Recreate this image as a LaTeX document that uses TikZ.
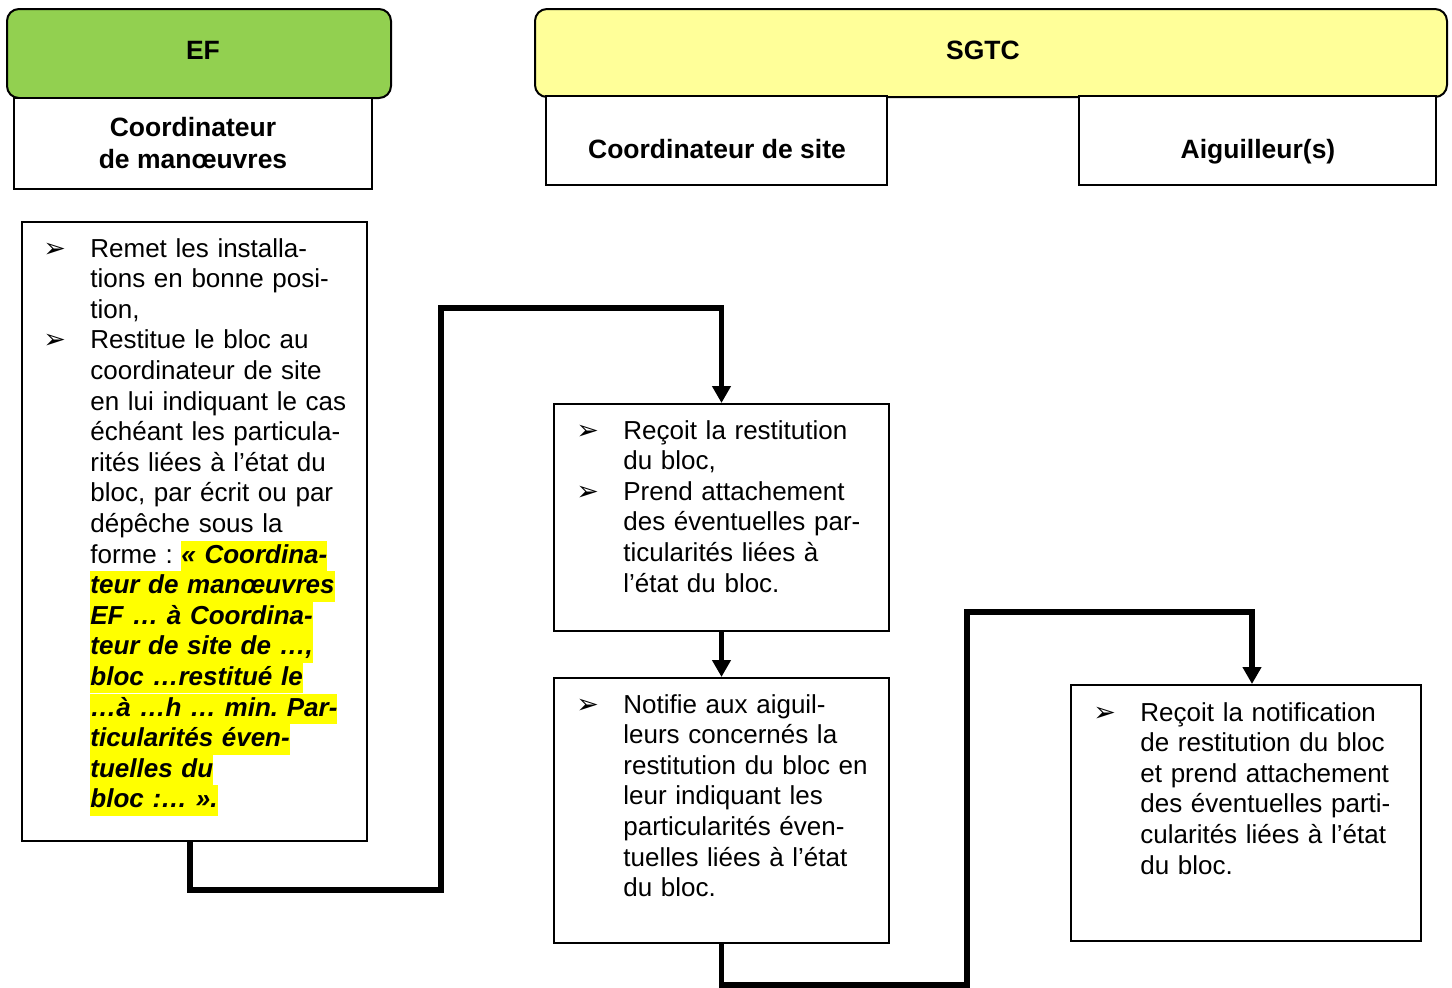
\documentclass[tikz,border=0pt]{standalone}
\usepackage{fontspec}
\setmainfont{Liberation Sans}
\newfontfamily\symfont{DejaVu Sans}
\usetikzlibrary{arrows.meta,fit}

\definecolor{efgreen}{RGB}{146,208,80}
\definecolor{sgtcyellow}{RGB}{255,255,153}
\definecolor{surlignage}{RGB}{255,255,0}

\setlength\parskip{0pt}
\frenchspacing

% highlighted quotation (bold italic on yellow)
\newcommand\surligne[1]{{\setlength\fboxsep{0pt}\colorbox{surlignage}{\rule[-4pt]{0pt}{15.2pt}\bfseries\itshape #1}}}
% arrow-head bullet
\newcommand\puce{\makebox[23.5pt][l]{\strut{\symfont\fontsize{13.5pt}{15pt}\selectfont ➢}}}
% one bulleted item with hanging indent
\newcommand\etape[1]{\par\noindent\hangindent=23.5pt\hangafter=1 \puce#1\par}

\tikzset{
  entete/.style={draw, line width=1pt, rounded corners=6pt, inner sep=0pt},
  boite/.style={draw, line width=1pt, fill=white, inner sep=0pt},
  titre/.style={inner sep=0pt, anchor=base, font=\fontsize{13.25pt}{16pt}\selectfont\bfseries},
  corps/.style={inner sep=0pt, anchor=north west, text width=200pt, align=left,
    font=\fontsize{13pt}{15.3pt}\selectfont},
  conn/.style={line width=2.8pt},
  fleche/.style={conn, -{Triangle[width=9pt,length=8.5pt]}}
}

\begin{document}
\begin{tikzpicture}[x=0.5pt,y=-0.5pt]
\useasboundingbox (0,0) rectangle (1452,987);
\clip (0,0) rectangle (1452,987);

% column headers
\node[entete, fill=efgreen, fit={(7,9) (391,98)}] (ef) {};
\node[titre] (eftxt) at (203,59.5) {EF};
\node[entete, fill=sgtcyellow, fit={(535,9) (1447,97)}] (sgtc) {};
\node[titre] (sgtctxt) at (983,59.5) {SGTC};

% roles
\node[boite, fit={(14,98) (372,189)}] (rolecm) {};
\node[titre, anchor=center, align=center] (rolecmtxt) at (193,143) {Coordinateur\\de manœuvres};
\node[boite, fit={(546,96) (887,185)}] (rolecs) {};
\node[titre] (rolecstxt) at (717,158.5) {Coordinateur de site};
\node[boite, fit={(1079,96) (1436,185)}] (roleaig) {};
\node[titre] (roleaigtxt) at (1258,158.5) {Aiguilleur(s)};

% task boxes
\node[boite, fit={(22,222) (367,841)}] (tachecm) {};
\node[corps] (tachecmtxt) at ([shift={(22,5)}]tachecm.north west) {%
\etape{Remet les installa-\newline tions en bonne posi-\newline tion,}%
\etape{Restitue le bloc au\newline coordinateur de site\newline en lui indiquant le cas\newline échéant les particula-\newline rités liées à l’état du\newline bloc, par écrit ou par\newline dépêche sous la\newline forme : \surligne{« Coordina-}\newline \surligne{teur de manœuvres}\newline \surligne{EF … à Coordina-}\newline \surligne{teur de site de …,}\newline \surligne{bloc …restitué le}\newline \surligne{…à …h … min. Par-}\newline \surligne{ticularités éven-}\newline \surligne{tuelles du}\newline \surligne{bloc :… ».}}};

\node[boite, fit={(554,404) (889,631)}] (tachecs1) {};
\node[corps] (tachecs1txt) at ([shift={(23,5)}]tachecs1.north west) {%
\etape{Reçoit la restitution\newline du bloc,}%
\etape{Prend attachement\newline des éventuelles par-\newline ticularités liées à\newline l’état du bloc.}};

\node[boite, fit={(554,678) (889,943)}] (tachecs2) {};
\node[corps] (tachecs2txt) at ([shift={(23,5)}]tachecs2.north west) {%
\etape{Notifie aux aiguil-\newline leurs concernés la\newline restitution du bloc en\newline leur indiquant les\newline particularités éven-\newline tuelles liées à l’état\newline du bloc.}};

\node[boite, fit={(1071,685) (1421,941)}] (tacheaig) {};
\node[corps] (tacheaigtxt) at ([shift={(23,6)}]tacheaig.north west) {%
\etape{Reçoit la notification\newline de restitution du bloc\newline et prend attachement\newline des éventuelles parti-\newline cularités liées à l’état\newline du bloc.}};

% flow connectors
\coordinate (a1) at (190,890);
\coordinate (a2) at (441,890);
\coordinate (a3) at (441,308);
\draw[fleche] (tachecm.south -| a1) -- (a1) -- (a2) -- (a3) -| (tachecs1.north);
\draw[fleche] (tachecs1.south) -- (tachecs2.north);
\coordinate (c1) at (967,985);
\coordinate (c2) at (967,612);
\coordinate (c3) at (1252,612);
\draw[fleche] (tachecs2.south) |- (c1) -- (c2) -- (c3) -- (c3 |- tacheaig.north);
\end{tikzpicture}
\end{document}
